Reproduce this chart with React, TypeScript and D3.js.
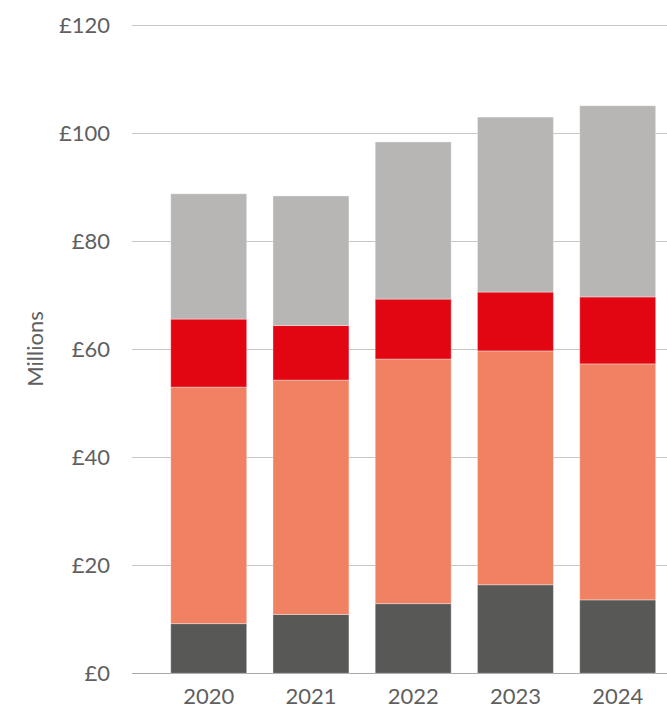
import React from "react";
import * as d3 from "d3";

const years = ["2020", "2021", "2022", "2023", "2024"];
const seriesKeys = ["dark", "salmon", "red", "grey"];
const darkValues = [9.2, 10.9, 12.9, 16.4, 13.6];
const salmonValues = [43.8, 43.4, 45.3, 43.3, 43.7];
const redValues = [12.6, 10.1, 11.1, 10.9, 12.4];
const greyValues = [23.2, 24.0, 29.1, 32.4, 35.4];
const yTicks = [0, 20, 40, 60, 80, 100, 120];
const colors = ["#585856", "#f08162", "#e20613", "#b7b6b5"];

const W = 667;
const H = 709;

export default function App() {
  const rows = years.map((y, i) => ({
    year: y,
    dark: darkValues[i],
    salmon: salmonValues[i],
    red: redValues[i],
    grey: greyValues[i],
  }));
  const stacked = d3.stack<any>().keys(seriesKeys)(rows);

  const y = d3.scaleLinear().domain([0, 120]).range([673.3, 25.3]);
  const x = d3
    .scaleBand()
    .domain(years)
    .range([157.6, 668.8])
    .paddingInner(0.257)
    .paddingOuter(0.1285);

  const font = "Lato, 'Open Sans', sans-serif";
  const textColor = "#5f5f5f";

  return (
    <div style={{ position: "absolute", left: 0, top: 0, width: W, height: H, background: "#fff" }}>
      <svg width={W} height={H} style={{ display: "block" }}>
        {yTicks.map((t) => (
          <g key={t}>
            <line
              x1={132}
              x2={W}
              y1={Math.round(y(t)) + 0.5}
              y2={Math.round(y(t)) + 0.5}
              stroke={t === 0 ? "#a9a9a9" : "#c6c6c6"}
              strokeWidth={1}
            />
            <text
              x={110}
              y={y(t)}
              dy="0.36em"
              textAnchor="end"
              fontFamily={font}
              fontSize={22}
              fill={textColor}
            >
              {`£${t}`}
            </text>
          </g>
        ))}
        {stacked.map((s, si) => (
          <g key={s.key} fill={colors[si]}>
            {s.map((d: any, i: number) => (
              <rect
                key={i}
                x={x(years[i])}
                y={y(d[1])}
                width={x.bandwidth()}
                height={y(d[0]) - y(d[1])}
                stroke="#ffffff"
                strokeOpacity={0.35}
                strokeWidth={1}
              />
            ))}
          </g>
        ))}
        {years.map((yr) => (
          <text
            key={yr}
            x={(x(yr) as number) + x.bandwidth() / 2}
            y={704}
            textAnchor="middle"
            fontFamily={font}
            fontSize={22}
            fill={textColor}
          >
            {yr}
          </text>
        ))}
        <text
          transform={`translate(43,349) rotate(-90)`}
          textAnchor="middle"
          fontFamily={font}
          fontSize={22}
          fill={textColor}
        >
          Millions
        </text>
      </svg>
    </div>
  );
}
